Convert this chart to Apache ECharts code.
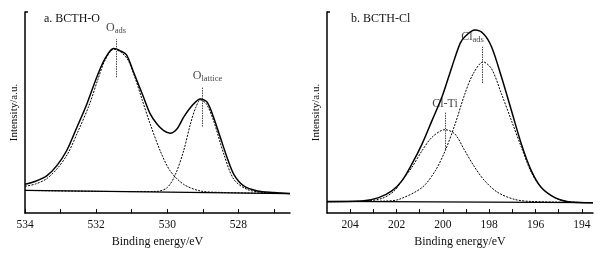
<!DOCTYPE html>
<html><head><meta charset="utf-8">
<script src="https://cdn.jsdelivr.net/npm/echarts@6/dist/echarts.min.js"></script>
<style>html,body{margin:0;padding:0;background:#fff}#c{width:606px;height:253px}</style>
</head><body><div id="c"></div>
<script>
// ---------- data (binding energy eV, intensity a.u.) ----------
const leftEnvEV = [534, 533.72, 533.39, 533.11, 532.83, 532.54, 532.26, 531.98, 531.75, 531.51, 531.32, 531.15, 530.95, 530.67, 530.48, 530.29, 530.10, 529.92, 529.73, 529.54, 529.30, 529.07, 528.88, 528.70, 528.51, 528.32, 528.13, 527.85, 527.47, 527.0, 526.55];
const leftEnvI  = [14.3, 15.7, 18.5, 23.5, 31, 42.7, 54.3, 67.7, 76.8, 81.8, 80.7, 78.8, 70.2, 57.7, 49.3, 44.3, 41, 39.7, 41.8, 47.7, 53.5, 56.8, 55.2, 47.7, 37.7, 27.7, 19.3, 13.5, 11, 10.2, 9.7];
const leftOadsEV = [534, 533.7, 533.4, 533.1, 532.8, 532.5, 532.2, 531.95, 531.75, 531.5, 531.3, 531.1, 530.9, 530.7, 530.48, 530.2, 529.92, 529.54, 529.07, 528.5, 527.5, 526.55];
const leftOadsI  = [13.3, 14.5, 17, 22, 29.5, 41, 53.5, 66.5, 76, 81.5, 80, 76, 67, 56, 44.3, 31, 21, 14.3, 11, 10.3, 9.9, 9.7];
const leftOlatEV = [534, 531, 530.29, 530.0, 529.77, 529.54, 529.35, 529.2, 529.07, 528.9, 528.70, 528.41, 528.13, 527.76, 527.3, 526.55];
const leftOlatI  = [11.3, 10.7, 10.8, 12.7, 19.3, 31, 44.3, 52.5, 56.3, 54.3, 46, 29.3, 16.8, 11.8, 10.3, 9.7];
const leftBaseEV = [534, 526.55];
const leftBaseI  = [11.3, 9.7];

const rightEnvEV = [205, 203.49, 202.77, 202.2, 201.77, 201.34, 200.9, 200.47, 200.04, 199.61, 199.25, 199.05, 198.62, 198.26, 197.9, 197.47, 197.04, 196.61, 196.18, 195.75, 195.17, 194.6, 193.52];
const rightEnvI  = [5.7, 6, 7.7, 11, 16, 24.3, 34.3, 46, 57.7, 72.7, 84.5, 87.7, 91, 89.3, 82.7, 67.7, 51, 34.3, 21, 12.7, 7.7, 5.7, 5.2];
const rightClTiEV = [205, 203.5, 202.63, 202.1, 201.77, 201.34, 200.9, 200.47, 199.91, 199.48, 199.05, 198.62, 198.19, 197.62, 196.9, 196.2, 193.52];
const rightClTiI  = [5.7, 5.9, 7.3, 11, 16, 22.7, 31, 37.7, 41.5, 39.3, 31, 22.7, 16, 10.2, 6.8, 5.8, 5.2];
const rightClAdsEV = [205, 202.5, 201.9, 200.9, 200.33, 199.9, 199.47, 199.05, 198.69, 198.26, 197.9, 197.47, 197.04, 196.61, 196.18, 195.75, 195.17, 194.6, 193.52];
const rightClAdsI  = [5.7, 6, 6.8, 12.7, 21, 31, 44.3, 59.3, 69.3, 75.2, 71.8, 59.3, 46, 32.7, 20.2, 12.7, 7.7, 5.7, 5.2];
const rightBaseEV = [205, 193.52];
const rightBaseI  = [5.8, 5.2];

const leftTickValues  = [527, 528, 529, 530, 531, 532, 533, 534];
const leftTickLabels  = [528, 530, 532, 534];
const rightTickValues = [194, 195, 196, 197, 198, 199, 200, 201, 202, 203, 204];
const rightTickLabels = [194, 196, 198, 200, 202, 204];

// peak markers: [eV, lineFrom, lineTo]
const leftMarkers  = [[531.44, 67.5, 86.5], [529.02, 43, 62.5]];
const rightMarkers = [[199.91, 31.8, 50.2], [198.29, 64.7, 82.7]];
// peak labels: [eV, intensity, text]
const leftLabels  = [[531.44, 92, 'O{s|ads}'], [528.87, 68.5, 'O{s|lattice}']];
const rightLabels = [[199.91, 54.5, 'Cl-Ti'], [198.72, 87.5, 'Cl{s|ads}']];

const titles = ['a. BCTH-O', 'b. BCTH-Cl'];
const xName = 'Binding energy/eV';
const yName = 'Intensity/a.u.';

// ---------- chart ----------
const FONT = 'Liberation Serif';
const zip = (a, b) => a.map((v, i) => [v, b[i]]);
const chart = echarts.init(document.getElementById('c'), null, {renderer: 'canvas'});

function xAxis(gi, min, max, ticks, labels) {
  return {
    gridIndex: gi, type: 'value', min: min, max: max, inverse: true,
    name: xName, nameLocation: 'middle', nameGap: 21,
    nameTextStyle: {fontFamily: FONT, fontSize: 12, color: '#111'},
    axisLine: {lineStyle: {color: '#000', width: 1.5}},
    axisTick: {inside: true, length: 4, customValues: ticks, lineStyle: {color: '#000', width: 1}},
    axisLabel: {customValues: labels, margin: 6, fontFamily: FONT, fontSize: 11.5, color: '#111'},
    splitLine: {show: false}
  };
}
function yAxis(gi) {
  return {
    gridIndex: gi, type: 'value', min: 0, max: 100,
    name: yName, nameLocation: 'middle', nameGap: 5,
    nameTextStyle: {fontFamily: FONT, fontSize: 11, color: '#111'},
    axisLine: {show: true, lineStyle: {color: '#000', width: 1.5}},
    axisTick: {show: true, inside: true, length: 3, customValues: [100], lineStyle: {color: '#000', width: 1.5}},
    axisLabel: {show: false},
    splitLine: {show: false}
  };
}
function solid(gi, ev, iv, w) {
  return {type: 'line', xAxisIndex: gi, yAxisIndex: gi, data: zip(ev, iv), smooth: 0.3,
    showSymbol: false, silent: true, lineStyle: {color: '#000', width: w}, z: 3};
}
function dashed(gi, ev, iv) {
  return {type: 'line', xAxisIndex: gi, yAxisIndex: gi, data: zip(ev, iv), smooth: 0.3,
    showSymbol: false, silent: true, lineStyle: {color: '#000', width: 1, type: [2, 1.3]}, z: 2};
}
function markers(gi, list) {
  return {type: 'line', xAxisIndex: gi, yAxisIndex: gi, data: [], silent: true,
    markLine: {symbol: 'none', silent: true, label: {show: false},
      lineStyle: {color: '#444', width: 1, type: [1.5, 1]},
      data: list.map(m => [{coord: [m[0], m[1]]}, {coord: [m[0], m[2]]}])}};
}
function labels(gi, list) {
  return {type: 'scatter', xAxisIndex: gi, yAxisIndex: gi, symbolSize: 0, silent: true,
    data: list.map(l => ({value: [l[0], l[1]], label: {formatter: l[2]}})),
    label: {show: true, position: 'inside', fontFamily: FONT, fontSize: 12, color: '#111',
      rich: {s: {fontFamily: FONT, fontSize: 8.5, color: '#111', verticalAlign: 'bottom', padding: [6, 0, 0, 0]}}}};
}

chart.setOption({
  animation: false,
  backgroundColor: '#fff',
  grid: [
    {left: 25, top: 12, width: 265, height: 202},
    {left: 327, top: 12, width: 266, height: 202}
  ],
  title: [
    {text: titles[0], left: 39, top: 8, textStyle: {fontFamily: FONT, fontSize: 12, fontWeight: 'normal', color: '#111'}},
    {text: titles[1], left: 346, top: 8, textStyle: {fontFamily: FONT, fontSize: 12, fontWeight: 'normal', color: '#111'}}
  ],
  xAxis: [xAxis(0, 526.55, 534, leftTickValues, leftTickLabels), xAxis(1, 193.52, 205, rightTickValues, rightTickLabels)],
  yAxis: [yAxis(0), yAxis(1)],
  series: [
    solid(0, leftBaseEV, leftBaseI, 1.3),
    dashed(0, leftOadsEV, leftOadsI),
    dashed(0, leftOlatEV, leftOlatI),
    solid(0, leftEnvEV, leftEnvI, 1.5),
    markers(0, leftMarkers),
    labels(0, leftLabels),
    solid(1, rightBaseEV, rightBaseI, 1.3),
    dashed(1, rightClTiEV, rightClTiI),
    dashed(1, rightClAdsEV, rightClAdsI),
    solid(1, rightEnvEV, rightEnvI, 1.5),
    markers(1, rightMarkers),
    labels(1, rightLabels)
  ]
});
</script></body></html>
